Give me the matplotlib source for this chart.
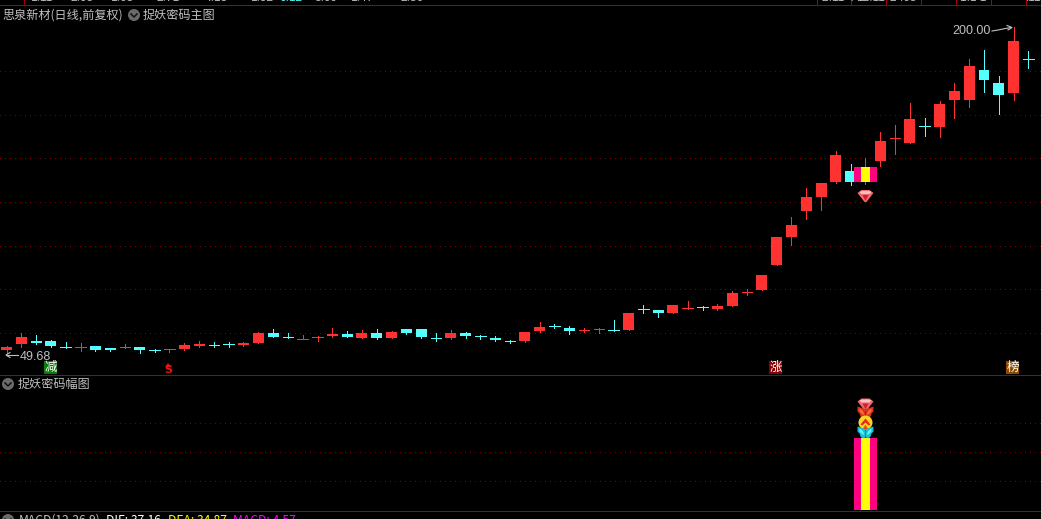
import matplotlib
matplotlib.use("Agg")
import matplotlib.pyplot as plt
from matplotlib.patches import Polygon, Circle
from matplotlib.transforms import Affine2D

plt.rcParams['font.family'] = ['Noto Sans CJK SC', 'DejaVu Sans']

opens = [52.21,54.96,56.34,56.34,53.69,53.59,54.05,53.13,53.59,53.59,
         52.31,52.67,52.67,54.05,54.60,55.06,54.50,55.42,60.00,58.27,
         57.25,58.17,58.63,59.54,57.71,60.00,57.71,61.83,61.83,57.81,
         57.71,60.00,58.73,57.71,56.44,56.34,60.92,63.31,62.29,61.37,
         61.83,61.47,61.37,71.09,70.53,69.16,71.45,72.01,70.99,72.37,
         78.78,79.69,91.14,103.97,115.88,122.29,129.16,134.20,129.16,138.78,
         149.31,147.02,154.91,154.35,166.71,166.71,180.45,174.50,169.92,185.59]
closes = [53.59,58.17,55.42,54.05,53.59,53.59,52.21,52.21,53.59,52.21,
          52.21,52.67,54.50,54.96,54.50,54.96,55.42,60.00,58.17,58.17,
          57.25,58.17,59.54,58.17,60.00,57.71,60.46,60.00,58.17,57.71,
          60.00,58.63,58.63,56.79,56.34,60.46,62.75,63.21,60.92,61.37,
          61.83,61.37,69.16,70.99,69.16,72.82,71.45,71.91,72.37,78.32,
          78.78,86.56,103.97,109.46,122.29,128.70,141.52,129.16,136.03,147.94,
          149.31,158.01,154.81,164.88,170.84,182.29,175.87,169.00,193.74,185.49]
highs = [54.05,60.00,59.08,56.79,55.88,55.42,54.05,53.13,54.96,53.59,
         52.67,52.67,55.42,56.34,55.88,55.88,55.88,60.46,61.83,60.00,
         59.08,58.63,62.29,60.92,61.37,61.83,60.92,61.83,61.83,60.00,
         61.37,60.46,59.08,58.63,56.79,60.46,65.04,64.12,63.21,62.29,
         62.29,65.95,69.16,72.82,70.53,72.82,74.66,72.37,73.28,79.24,
         80.15,86.56,103.97,113.13,126.41,128.70,143.36,137.40,140.15,152.06,
         155.26,165.34,158.47,166.26,174.50,185.49,189.61,177.71,200.00,189.16]
lows = [50.84,53.59,54.96,53.59,53.13,51.76,51.76,51.76,53.13,50.84,
        51.30,51.30,52.21,53.59,53.59,53.59,54.05,55.42,58.17,57.71,
        57.25,56.34,58.17,58.17,57.71,57.25,57.71,59.54,57.71,56.34,
        57.25,57.71,57.25,56.34,55.42,55.88,60.46,62.29,59.54,60.46,
        60.00,60.92,61.37,69.16,67.33,69.16,70.99,70.53,70.53,72.37,
        77.40,79.69,91.14,100.30,112.21,116.33,128.70,127.78,128.24,136.49,
        141.98,147.02,150.23,149.77,158.47,163.51,170.38,160.30,166.71,181.37]

price_grid = [60, 80, 100, 120, 140, 160, 180]
signal_index = 58
signal_height = [2.5]
amp_grid = [1, 2, 3]
gem_price = 122.3
high_label, low_label = "200.00", "49.68"
title_main = "思泉新材(日线,前复权)"
title_formula = "捉妖密码主图"
title_sub = "捉妖密码幅图"
top_frag = ["1.11", "2.05", "1.63", "2.71", "4.18", "1.52", "3.09", "1.47", "2.36"]
top_frag_x = [30, 70, 110, 156, 205, 250, 315, 350, 400]
top_frag_right = ["2.11 4", "12.11", "2 .63", "1.1 1", ".11"]
top_frag_right_x = [822, 856, 890, 960, 1026]
RED, CYAN, PINK, YELLOW = "#ff3232", "#54ffff", "#ff0080", "#ffff00"
GRID, SEP, GRAY = "#800000", "#a80000", "#c0c0c0"
W, H = 1041, 519
PX = 0.72

fig = plt.figure(figsize=(W/100, H/100), dpi=100, facecolor="black")

def panel(top, bottom):
    a = fig.add_axes([0, 1-bottom/H, 1, (bottom-top)/H])
    a.set_facecolor("none")
    a.axis("off")
    a.set_xlim(-0.4389, 69.85)
    return a

ax = panel(16, 375)
ax.set_ylim(60-0.458*42, 60+0.458*317)
ax2 = panel(376, 510)
ax2.set_ylim(0, 134/29)
ov = fig.add_axes([0, 0, 1, 1], zorder=5)
ov.set_facecolor("none")
ov.axis("off")
ov.set_xlim(0, W)
ov.set_ylim(H, 0)

# grid
DOT = (0, (0.8, 4.2))
ax.hlines(price_grid, -0.4389, 69.85, colors=GRID, lw=PX, linestyles=DOT, antialiased=False, zorder=1)
ax2.hlines(amp_grid, -0.4389, 69.85, colors=GRID, lw=PX, linestyles=DOT, antialiased=False, zorder=1)

# candles
for i, (o, c, h, l) in enumerate(zip(opens, closes, highs, lows)):
    col = RED if c >= o else CYAN
    ax.vlines(i, l, h, colors=col, lw=PX, antialiased=False, zorder=2)
    if abs(o-c) < 0.2:
        ax.hlines(c, i-0.36, i+0.36, colors=col, lw=PX, antialiased=False, zorder=3)
    else:
        ax.bar(i, abs(o-c), bottom=min(o, c), width=0.74, color=col, linewidth=0, zorder=3)

# signal bars
def signal(a, base, top, z=4):
    a.bar(signal_index, top-base, bottom=base, width=1.55, color=PINK, linewidth=0, zorder=z)
    a.bar(signal_index, top-base, bottom=base, width=0.62, color=YELLOW, linewidth=0, zorder=z+1)
signal(ax, opens[signal_index], closes[signal_index])
signal(ax2, 0, signal_height[0])

# separators
ov.hlines([4.7, 374.7, 510.7], 0, W, colors=SEP, lw=PX, antialiased=False)
ov.vlines([23.5, 816.5, 850.5, 885.5, 920.5, 955.5, 990.5, 1025.5], 0, 5, colors=SEP, lw=PX, antialiased=False)

# clipped strip text at very top / bottom
for s, x in zip(top_frag + top_frag_right, top_frag_x + top_frag_right_x):
    ov.text(x, 0.8, s, color=GRAY, fontsize=8.6, family="Liberation Sans", va="baseline", clip_on=True)
ov.text(279, 0.8, "0.12", color=CYAN, fontsize=8.6, family="Liberation Sans", va="baseline")

def T(x, y, s, color=GRAY, size=8.7, **kw):
    return ov.text(x, y, s, color=color, fontsize=size, va="center", ha=kw.pop("ha", "left"), **kw)

T(2, 15, title_main)
T(143, 15, title_formula)
T(18, 384, title_sub)

def chevron(x, y):
    ov.add_patch(Circle((x, y), 6, color="#6a6a6a", lw=0))
    ov.plot([x-3, x, x+3], [y-1, y+2, y-1], color="#111111", lw=1.1)
chevron(134, 15)
chevron(8, 384)
chevron(8, 520)

# bottom cut MACD line
y_b = 520.5
T(19, y_b, "MACD(12,26,9)")
T(106, y_b, "DIF: 37.16", color="#ffffff")
T(168, y_b, "DEA: 34.87", color=YELLOW)
T(233, y_b, "MACD: 4.57", color="#ff00ff")

# high / low labels
T(952, 31.5, high_label, size=9, family="Liberation Sans")
ov.plot([992, 998, 1003, 1011], [31, 30, 29, 27.5], color=GRAY, lw=0.8)
ov.plot([1007, 1012, 1008], [25.5, 27.5, 30], color=GRAY, lw=0.8)
T(20, 356.5, low_label, size=9, family="Liberation Sans")
ov.plot([6, 18], [355, 355], color=GRAY, lw=0.8)
ov.plot([10, 6, 10], [352.5, 355, 357.5], color=GRAY, lw=0.8)

# badges
def badge(x, s, bg):
    ov.fill_between([x-6.5, x+6.5], 361, 374, color=bg, lw=0, zorder=6)
    ov.text(x, 367.2, s, color="white", fontsize=9, ha="center", va="center", zorder=7)
badge(50.5, "减", "#0a7a0a")
badge(775.5, "涨", "#8a0000")
badge(1012.5, "榜", "#8f4a00")
ov.text(168, 370, "S", color="#f01010", fontsize=8, fontweight="bold", family="DejaVu Sans", ha="center", va="center")
ov.add_patch(Polygon([(165, 367), (171, 367), (168, 363)], color="#f01010", lw=0))

# icons, anchored on the signal bar
def px_anchor(a, i, v):
    x, y = a.transData.transform((i, v))
    return Affine2D().scale(1, -1).translate(x, y)

def gem(tr, z=8):
    ov.add_patch(Polygon([(-8, -4), (-4, -7), (4, -7), (8, -4), (1, 5), (-1, 5)], color="#f0686c", lw=0, transform=tr, zorder=z))
    ov.add_patch(Polygon([(-6, -5), (-3, -6), (3, -6), (6, -5), (4, -3), (-4, -3)], color="#ffc0c0", lw=0, transform=tr, zorder=z+1))
    ov.add_patch(Polygon([(-3, -2), (3, -2), (0, 4)], color="#d02030", lw=0, transform=tr, zorder=z+1))

def butterfly(tr, c1, c2, z=8):
    for s in (-1, 1):
        ov.add_patch(Polygon([(0, -3), (s*2, -4), (s*8, -6), (s*8, -1), (s*6, 1), (s*5, 4), (s*3, 6), (0, 5)],
                             color=c1, lw=0, transform=tr, zorder=z))
        ov.add_patch(Polygon([(s*1, 2), (s*3, -2), (s*6, -4), (s*6, -1), (s*3, 2)],
                             color=c2, lw=0, transform=tr, zorder=z+1))

def medal(tr, z=8):
    ov.add_patch(Circle((0, 0), 7, color="#ffd428", lw=0, transform=tr, zorder=z))
    ov.add_patch(Polygon([(-5, 2), (0, -4), (5, 2), (3, 3), (0, 0), (-3, 3)], color="#e03010", lw=0, transform=tr, zorder=z+1))
    ov.add_patch(Polygon([(-3, 7), (0, 2), (3, 7)], color="#e85010", lw=0, transform=tr, zorder=z+1))

gem(px_anchor(ax, signal_index, gem_price))
tr = lambda dy: px_anchor(ax2, signal_index, signal_height[0]) + Affine2D().translate(0, dy)
gem(tr(32), z=7)
butterfly(tr(25), "#d83418", "#ff6a3c", z=10)
medal(tr(15), z=12)
butterfly(tr(5), "#18c0d4", "#60f0ff", z=14)

fig.savefig("out.png", dpi=100, facecolor="black")
